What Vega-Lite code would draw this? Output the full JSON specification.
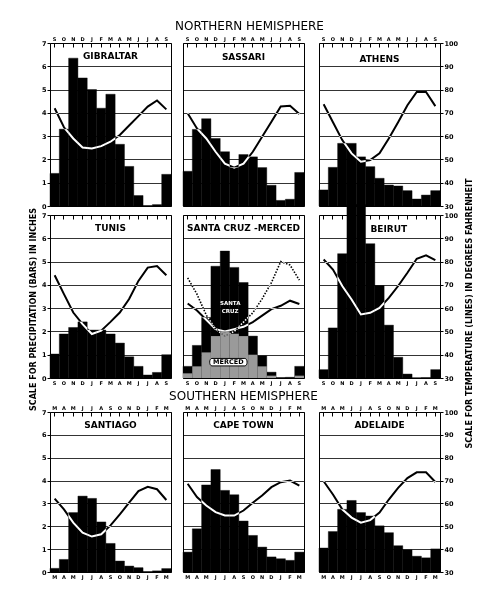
{
"$schema":"https://vega.github.io/schema/vega-lite/v6.json",
"background":"white",
"padding":{"left":29,"top":19,"right":6,"bottom":10},
"title":{"text":"SCALE FOR PRECIPITATION (BARS) IN INCHES","orient":"left","fontSize":8,"fontWeight":"bold","anchor":"middle","offset":3,"dx":-10},
"datasets":{"d":[
{"c":"GIB","i":0,"p":1.4,"t":72},{"c":"GIB","i":1,"p":3.3,"t":63.8},{"c":"GIB","i":2,"p":6.35,"t":59},{"c":"GIB","i":3,"p":5.5,"t":55.1},{"c":"GIB","i":4,"p":5.0,"t":54.7},{"c":"GIB","i":5,"p":4.2,"t":55.7},{"c":"GIB","i":6,"p":4.8,"t":57.6},{"c":"GIB","i":7,"p":2.65,"t":60.5},{"c":"GIB","i":8,"p":1.7,"t":64.6},{"c":"GIB","i":9,"p":0.45,"t":68.6},{"c":"GIB","i":10,"p":0.02,"t":72.7},{"c":"GIB","i":11,"p":0.06,"t":75.3},{"c":"GIB","i":12,"p":1.36,"t":71.5},
{"c":"SAS","i":0,"p":1.49,"t":69.8},{"c":"SAS","i":1,"p":3.29,"t":63.3},{"c":"SAS","i":2,"p":3.75,"t":59},{"c":"SAS","i":3,"p":2.9,"t":53.3},{"c":"SAS","i":4,"p":2.33,"t":48.2},{"c":"SAS","i":5,"p":1.65,"t":46.5},{"c":"SAS","i":6,"p":2.21,"t":48.2},{"c":"SAS","i":7,"p":2.11,"t":53.3},{"c":"SAS","i":8,"p":1.65,"t":59.7},{"c":"SAS","i":9,"p":0.89,"t":66.2},{"c":"SAS","i":10,"p":0.24,"t":72.7},{"c":"SAS","i":11,"p":0.29,"t":73},{"c":"SAS","i":12,"p":1.44,"t":69.5},
{"c":"ATH","i":0,"p":0.69,"t":73.7},{"c":"ATH","i":1,"p":1.66,"t":66},{"c":"ATH","i":2,"p":2.69,"t":58.3},{"c":"ATH","i":3,"p":2.69,"t":52.6},{"c":"ATH","i":4,"p":2.11,"t":49},{"c":"ATH","i":5,"p":1.69,"t":49.7},{"c":"ATH","i":6,"p":1.19,"t":52.6},{"c":"ATH","i":7,"p":0.9,"t":59},{"c":"ATH","i":8,"p":0.86,"t":66},{"c":"ATH","i":9,"p":0.66,"t":73.3},{"c":"ATH","i":10,"p":0.3,"t":79},{"c":"ATH","i":11,"p":0.47,"t":79},{"c":"ATH","i":12,"p":0.66,"t":72.9},
{"c":"TUN","i":0,"p":1.03,"t":74.1},{"c":"TUN","i":1,"p":1.89,"t":66},{"c":"TUN","i":2,"p":2.17,"t":58.1},{"c":"TUN","i":3,"p":2.41,"t":53.1},{"c":"TUN","i":4,"p":2.06,"t":48.9},{"c":"TUN","i":5,"p":2.06,"t":50.3},{"c":"TUN","i":6,"p":1.89,"t":54.1},{"c":"TUN","i":7,"p":1.5,"t":58.1},{"c":"TUN","i":8,"p":0.91,"t":63.9},{"c":"TUN","i":9,"p":0.5,"t":71.7},{"c":"TUN","i":10,"p":0.13,"t":77.4},{"c":"TUN","i":11,"p":0.24,"t":78.1},{"c":"TUN","i":12,"p":1.0,"t":74.1},
{"c":"SC","i":0,"p":0.5,"t":62},{"c":"SC","i":1,"p":1.4,"t":59},{"c":"SC","i":2,"p":2.6,"t":55},{"c":"SC","i":3,"p":4.8,"t":51},{"c":"SC","i":4,"p":5.45,"t":50},{"c":"SC","i":5,"p":4.75,"t":51},{"c":"SC","i":6,"p":4.1,"t":52},{"c":"SC","i":7,"p":1.8,"t":54},{"c":"SC","i":8,"p":0.95,"t":56.8},{"c":"SC","i":9,"p":0.25,"t":59.6},{"c":"SC","i":10,"p":0.02,"t":61},{"c":"SC","i":11,"p":0.03,"t":63.2},{"c":"SC","i":12,"p":0.5,"t":61.8},
{"c":"MER","i":0,"p":0.2,"t":73},{"c":"MER","i":1,"p":0.5,"t":66},{"c":"MER","i":2,"p":1.1,"t":57},{"c":"MER","i":3,"p":1.8,"t":51},{"c":"MER","i":4,"p":2.0,"t":48},{"c":"MER","i":5,"p":1.9,"t":50},{"c":"MER","i":6,"p":1.8,"t":54},{"c":"MER","i":7,"p":1.0,"t":58},{"c":"MER","i":8,"p":0.5,"t":64},{"c":"MER","i":9,"p":0.1,"t":71},{"c":"MER","i":10,"p":0,"t":80},{"c":"MER","i":11,"p":0,"t":78.5},{"c":"MER","i":12,"p":0.1,"t":72},
{"c":"BEI","i":0,"p":0.36,"t":80.9},{"c":"BEI","i":1,"p":2.15,"t":76.6},{"c":"BEI","i":2,"p":5.34,"t":69.5},{"c":"BEI","i":3,"p":7.45,"t":63.7},{"c":"BEI","i":4,"p":7.45,"t":57.3},{"c":"BEI","i":5,"p":5.77,"t":58},{"c":"BEI","i":6,"p":3.97,"t":60.1},{"c":"BEI","i":7,"p":2.27,"t":64.4},{"c":"BEI","i":8,"p":0.89,"t":69.5},{"c":"BEI","i":9,"p":0.17,"t":75.2},{"c":"BEI","i":10,"p":0.01,"t":81.2},{"c":"BEI","i":11,"p":0.02,"t":82.7},{"c":"BEI","i":12,"p":0.36,"t":80.6},
{"c":"SAN","i":0,"p":0.16,"t":62.1},{"c":"SAN","i":1,"p":0.55,"t":57.4},{"c":"SAN","i":2,"p":2.6,"t":51.6},{"c":"SAN","i":3,"p":3.32,"t":47.2},{"c":"SAN","i":4,"p":3.22,"t":45.5},{"c":"SAN","i":5,"p":2.19,"t":46.5},{"c":"SAN","i":6,"p":1.25,"t":50.4},{"c":"SAN","i":7,"p":0.48,"t":55.2},{"c":"SAN","i":8,"p":0.26,"t":60.3},{"c":"SAN","i":9,"p":0.19,"t":65.4},{"c":"SAN","i":10,"p":0.02,"t":67.3},{"c":"SAN","i":11,"p":0.05,"t":66.2},{"c":"SAN","i":12,"p":0.15,"t":61.5},
{"c":"CPT","i":0,"p":0.87,"t":68.6},{"c":"CPT","i":1,"p":1.89,"t":62.8},{"c":"CPT","i":2,"p":3.81,"t":59.1},{"c":"CPT","i":3,"p":4.48,"t":56.2},{"c":"CPT","i":4,"p":3.57,"t":54.7},{"c":"CPT","i":5,"p":3.38,"t":54.7},{"c":"CPT","i":6,"p":2.23,"t":56.9},{"c":"CPT","i":7,"p":1.6,"t":60.3},{"c":"CPT","i":8,"p":1.09,"t":63.5},{"c":"CPT","i":9,"p":0.66,"t":67.1},{"c":"CPT","i":10,"p":0.58,"t":69.3},{"c":"CPT","i":11,"p":0.51,"t":70},{"c":"CPT","i":12,"p":0.87,"t":67.8},
{"c":"ADL","i":0,"p":1.05,"t":69.7},{"c":"ADL","i":1,"p":1.77,"t":63.9},{"c":"ADL","i":2,"p":2.74,"t":57.4},{"c":"ADL","i":3,"p":3.13,"t":53.8},{"c":"ADL","i":4,"p":2.6,"t":51.6},{"c":"ADL","i":5,"p":2.45,"t":52.7},{"c":"ADL","i":6,"p":2.02,"t":56},{"c":"ADL","i":7,"p":1.72,"t":61.7},{"c":"ADL","i":8,"p":1.15,"t":66.8},{"c":"ADL","i":9,"p":0.97,"t":71.1},{"c":"ADL","i":10,"p":0.69,"t":73.6},{"c":"ADL","i":11,"p":0.62,"t":73.6},{"c":"ADL","i":12,"p":1.01,"t":69.4}
]},
"vconcat":[{
"title":{"text":"SCALE FOR TEMPERATURE (LINES) IN DEGREES FAHRENHEIT","orient":"right","angle":270,"baseline":"top","fontSize":8,"fontWeight":"bold","anchor":"middle","offset":0,"dx":-14},
"vconcat":[{
"title":{"text":"NORTHERN HEMISPHERE","fontSize":12,"offset":3,"anchor":"middle"},
"columns":3,
"align":"each",
"spacing":{"row":-7,"column":-4},
"concat":[
{"width":121,"height":163,"data":{"name":"d"},"resolve":{"scale":{"y":"independent"},"axis":{"x":"independent"}},"layer":[
 {"transform":[{"filter":"datum.c=='GIB'"}],"mark":{"type":"bar","color":"black","stroke":"black","strokeWidth":0.4},"encoding":{
  "x":{"field":"i","type":"ordinal","scale":{"domain":[0,1,2,3,4,5,6,7,8,9,10,11,12],"paddingInner":0,"paddingOuter":0},"axis":{"orient":"top","labelExpr":"['S','O','N','D','J','F','M','A','M','J','J','A','S'][datum.value]","labelAngle":0,"labelFontSize":5,"tickSize":-4,"labelPadding":6,"title":null}},
  "y":{"field":"p","type":"quantitative","scale":{"domain":[0,7]},"axis":{"orient":"left","values":[0,1,2,3,4,5,6,7],"grid":true,"title":null,"tickSize":3,"labelPadding":1,"labelFontSize":6.5}}}},
 {"transform":[{"filter":"datum.c=='GIB'"}],"mark":{"type":"line","color":"white","strokeWidth":2,"blend":"difference"},"encoding":{
  "x":{"field":"i","type":"ordinal","axis":null},
  "y":{"field":"t","type":"quantitative","scale":{"domain":[30,100]},"axis":null}}},
 {"data":{"values":[{"n":"GIBRALTAR"}]},"mark":{"type":"text","fontSize":9,"fontWeight":"bold"},"encoding":{"text":{"field":"n"},"x":{"datum":6,"type":"ordinal","axis":null},"y":{"datum":6.45,"type":"quantitative","scale":{"domain":[0,7]},"axis":null}}}
]},
{"width":121,"height":163,"data":{"name":"d"},"resolve":{"scale":{"y":"independent"},"axis":{"x":"independent"}},"layer":[
 {"transform":[{"filter":"datum.c=='SAS'"}],"mark":{"type":"bar","color":"black","stroke":"black","strokeWidth":0.4},"encoding":{
  "x":{"field":"i","type":"ordinal","scale":{"domain":[0,1,2,3,4,5,6,7,8,9,10,11,12],"paddingInner":0,"paddingOuter":0},"axis":{"orient":"top","labelExpr":"['S','O','N','D','J','F','M','A','M','J','J','A','S'][datum.value]","labelAngle":0,"labelFontSize":5,"tickSize":-4,"labelPadding":6,"title":null}},
  "y":{"field":"p","type":"quantitative","scale":{"domain":[0,7]},"axis":{"orient":"left","values":[0,1,2,3,4,5,6,7],"grid":true,"title":null,"labels":false,"ticks":false}}}},
 {"transform":[{"filter":"datum.c=='SAS'"}],"mark":{"type":"line","color":"white","strokeWidth":2,"blend":"difference"},"encoding":{
  "x":{"field":"i","type":"ordinal","axis":null},
  "y":{"field":"t","type":"quantitative","scale":{"domain":[30,100]},"axis":null}}},
 {"data":{"values":[{"n":"SASSARI"}]},"mark":{"type":"text","fontSize":9,"fontWeight":"bold"},"encoding":{"text":{"field":"n"},"x":{"datum":6,"type":"ordinal","axis":null},"y":{"datum":6.4,"type":"quantitative","scale":{"domain":[0,7]},"axis":null}}}
]},
{"width":121,"height":163,"data":{"name":"d"},"resolve":{"scale":{"y":"independent"},"axis":{"x":"independent"}},"layer":[
 {"transform":[{"filter":"datum.c=='ATH'"}],"mark":{"type":"bar","color":"black","stroke":"black","strokeWidth":0.4},"encoding":{
  "x":{"field":"i","type":"ordinal","scale":{"domain":[0,1,2,3,4,5,6,7,8,9,10,11,12],"paddingInner":0,"paddingOuter":0},"axis":{"orient":"top","labelExpr":"['S','O','N','D','J','F','M','A','M','J','J','A','S'][datum.value]","labelAngle":0,"labelFontSize":5,"tickSize":-4,"labelPadding":6,"title":null}},
  "y":{"field":"p","type":"quantitative","scale":{"domain":[0,7]},"axis":{"orient":"left","values":[0,1,2,3,4,5,6,7],"grid":true,"title":null,"labels":false,"ticks":false}}}},
 {"transform":[{"filter":"datum.c=='ATH'"}],"mark":{"type":"line","color":"white","strokeWidth":2,"blend":"difference"},"encoding":{
  "x":{"field":"i","type":"ordinal","axis":null},
  "y":{"field":"t","type":"quantitative","scale":{"domain":[30,100]},"axis":{"orient":"right","values":[30,40,50,60,70,80,90,100],"grid":false,"title":null,"tickSize":3,"labelPadding":1,"labelFontSize":6.5}}}},
 {"data":{"values":[{"n":"ATHENS"}]},"mark":{"type":"text","fontSize":9,"fontWeight":"bold"},"encoding":{"text":{"field":"n"},"x":{"datum":6,"type":"ordinal","axis":null},"y":{"datum":6.3,"type":"quantitative","scale":{"domain":[0,7]},"axis":null}}}
]},
{"width":121,"height":163,"data":{"name":"d"},"resolve":{"scale":{"y":"independent"},"axis":{"x":"independent"}},"layer":[
 {"transform":[{"filter":"datum.c=='TUN'"}],"mark":{"type":"bar","color":"black","stroke":"black","strokeWidth":0.4},"encoding":{
  "x":{"field":"i","type":"ordinal","scale":{"domain":[0,1,2,3,4,5,6,7,8,9,10,11,12],"paddingInner":0,"paddingOuter":0},"axis":{"orient":"top","labels":false,"tickSize":-4,"title":null}},
  "y":{"field":"p","type":"quantitative","scale":{"domain":[0,7]},"axis":{"orient":"left","values":[0,1,2,3,4,5,6,7],"grid":true,"title":null,"tickSize":3,"labelPadding":1,"labelFontSize":6.5}}}},
 {"transform":[{"filter":"datum.c=='TUN'"}],"mark":{"type":"line","color":"white","strokeWidth":2,"blend":"difference"},"encoding":{
  "x":{"field":"i","type":"ordinal","axis":{"orient":"bottom","labelExpr":"['S','O','N','D','J','F','M','A','M','J','J','A','S'][datum.value]","labelAngle":0,"labelFontSize":5,"ticks":false,"labelPadding":2,"title":null}},
  "y":{"field":"t","type":"quantitative","scale":{"domain":[30,100]},"axis":null}}},
 {"data":{"values":[{"n":"TUNIS"}]},"mark":{"type":"text","fontSize":9,"fontWeight":"bold"},"encoding":{"text":{"field":"n"},"x":{"datum":6,"type":"ordinal","axis":null},"y":{"datum":6.45,"type":"quantitative","scale":{"domain":[0,7]},"axis":null}}}
]},
{"width":121,"height":163,"data":{"name":"d"},"resolve":{"scale":{"y":"independent"},"axis":{"x":"independent"}},"layer":[
 {"transform":[{"filter":"datum.c=='SC'"}],"mark":{"type":"bar","color":"black","stroke":"black","strokeWidth":0.4},"encoding":{
  "x":{"field":"i","type":"ordinal","scale":{"domain":[0,1,2,3,4,5,6,7,8,9,10,11,12],"paddingInner":0,"paddingOuter":0},"axis":{"orient":"top","labels":false,"tickSize":-4,"title":null}},
  "y":{"field":"p","type":"quantitative","scale":{"domain":[0,7]},"axis":{"orient":"left","values":[0,1,2,3,4,5,6,7],"grid":true,"title":null,"labels":false,"ticks":false}}}},
 {"transform":[{"filter":"datum.c=='MER'"}],"mark":{"type":"bar","color":"#9a9a9a"},"encoding":{
  "x":{"field":"i","type":"ordinal","axis":null},
  "y":{"field":"p","type":"quantitative","scale":{"domain":[0,7]},"axis":null}}},
 {"transform":[{"filter":"datum.c=='SC'"}],"mark":{"type":"line","color":"white","strokeWidth":2,"blend":"difference"},"encoding":{
  "x":{"field":"i","type":"ordinal","axis":{"orient":"bottom","labelExpr":"['S','O','N','D','J','F','M','A','M','J','J','A','S'][datum.value]","labelAngle":0,"labelFontSize":5,"ticks":false,"labelPadding":2,"title":" ","titleFontSize":8,"titlePadding":2}},
  "y":{"field":"t","type":"quantitative","scale":{"domain":[30,100]},"axis":null}}},
 {"transform":[{"filter":"datum.c=='MER'"}],"mark":{"type":"line","color":"white","strokeWidth":1.6,"strokeDash":[1.5,1.5],"blend":"difference"},"encoding":{
  "x":{"field":"i","type":"ordinal","axis":null},
  "y":{"field":"t","type":"quantitative","scale":{"domain":[30,100]},"axis":null}}},
 {"data":{"values":[{"n":"SANTA CRUZ -MERCED"}]},"mark":{"type":"text","fontSize":9,"fontWeight":"bold"},"encoding":{"text":{"field":"n"},"x":{"datum":6,"type":"ordinal","axis":null},"y":{"datum":6.44,"type":"quantitative","scale":{"domain":[0,7]},"axis":null}}},
 {"data":{"values":[{"n":"SANTA\nCRUZ"}]},"mark":{"type":"text","fontSize":5.5,"fontWeight":"bold","color":"white","lineBreak":"\n","dx":-4},"encoding":{"text":{"field":"n"},"x":{"datum":5,"type":"ordinal","axis":null},"y":{"datum":3.2,"type":"quantitative","scale":{"domain":[0,7]},"axis":null}}},
 {"data":{"values":[{"n":"MERCED"}]},"mark":{"type":"point","shape":"M-0.88,-0.2H0.88A0.12,0.2 0 0 1 0.88,0.2H-0.88A0.12,0.2 0 0 1 -0.88,-0.2Z","size":1400,"filled":true,"fill":"white","stroke":"black","strokeWidth":1,"opacity":1,"xOffset":3.5},"encoding":{"x":{"datum":4,"type":"ordinal","axis":null},"y":{"datum":0.68,"type":"quantitative","scale":{"domain":[0,7]},"axis":null}}},
 {"data":{"values":[{"n":"MERCED"}]},"mark":{"type":"text","fontSize":6.5,"fontWeight":"bold","dx":3.5},"encoding":{"text":{"field":"n"},"x":{"datum":4,"type":"ordinal","axis":null},"y":{"datum":0.68,"type":"quantitative","scale":{"domain":[0,7]},"axis":null}}}
]},
{"width":121,"height":163,"data":{"name":"d"},"resolve":{"scale":{"y":"independent"},"axis":{"x":"independent"}},"layer":[
 {"transform":[{"filter":"datum.c=='BEI'"}],"mark":{"type":"bar","color":"black","stroke":"black","strokeWidth":0.4},"encoding":{
  "x":{"field":"i","type":"ordinal","scale":{"domain":[0,1,2,3,4,5,6,7,8,9,10,11,12],"paddingInner":0,"paddingOuter":0},"axis":{"orient":"top","labels":false,"tickSize":-4,"title":null}},
  "y":{"field":"p","type":"quantitative","scale":{"domain":[0,7]},"axis":{"orient":"left","values":[0,1,2,3,4,5,6,7],"grid":true,"title":null,"labels":false,"ticks":false}}}},
 {"transform":[{"filter":"datum.c=='BEI'"}],"mark":{"type":"line","color":"white","strokeWidth":2,"blend":"difference"},"encoding":{
  "x":{"field":"i","type":"ordinal","axis":{"orient":"bottom","labelExpr":"['S','O','N','D','J','F','M','A','M','J','J','A','S'][datum.value]","labelAngle":0,"labelFontSize":5,"ticks":false,"labelPadding":2,"title":null}},
  "y":{"field":"t","type":"quantitative","scale":{"domain":[30,100]},"axis":{"orient":"right","values":[30,40,50,60,70,80,90,100],"grid":false,"title":null,"tickSize":3,"labelPadding":1,"labelFontSize":6.5}}}},
 {"data":{"values":[{"n":"BEIRUT"}]},"mark":{"type":"text","fontSize":9,"fontWeight":"bold"},"encoding":{"text":{"field":"n"},"x":{"datum":7,"type":"ordinal","axis":null},"y":{"datum":6.4,"type":"quantitative","scale":{"domain":[0,7]},"axis":null}}}
]},
{"width":121,"height":160,"data":{"name":"d"},"resolve":{"scale":{"y":"independent"},"axis":{"x":"independent"}},"layer":[
 {"transform":[{"filter":"datum.c=='SAN'"}],"mark":{"type":"bar","color":"black","stroke":"black","strokeWidth":0.4},"encoding":{
  "x":{"field":"i","type":"ordinal","scale":{"domain":[0,1,2,3,4,5,6,7,8,9,10,11,12],"paddingInner":0,"paddingOuter":0},"axis":{"orient":"top","labelExpr":"['M','A','M','J','J','A','S','O','N','D','J','F','M'][datum.value]","labelAngle":0,"labelFontSize":5,"tickSize":-4,"labelPadding":6,"title":null}},
  "y":{"field":"p","type":"quantitative","scale":{"domain":[0,7]},"axis":{"orient":"left","values":[0,1,2,3,4,5,6,7],"grid":true,"title":null,"tickSize":3,"labelPadding":1,"labelFontSize":6.5}}}},
 {"transform":[{"filter":"datum.c=='SAN'"}],"mark":{"type":"line","color":"white","strokeWidth":2,"blend":"difference"},"encoding":{
  "x":{"field":"i","type":"ordinal","axis":{"orient":"bottom","labelExpr":"['M','A','M','J','J','A','S','O','N','D','J','F','M'][datum.value]","labelAngle":0,"labelFontSize":5,"ticks":false,"labelPadding":2,"title":null}},
  "y":{"field":"t","type":"quantitative","scale":{"domain":[30,100]},"axis":null}}},
 {"data":{"values":[{"n":"SANTIAGO"}]},"mark":{"type":"text","fontSize":9,"fontWeight":"bold"},"encoding":{"text":{"field":"n"},"x":{"datum":6,"type":"ordinal","axis":null},"y":{"datum":6.45,"type":"quantitative","scale":{"domain":[0,7]},"axis":null}}}
]},
{"width":121,"height":160,"data":{"name":"d"},"title":{"text":"SOUTHERN HEMISPHERE","fontSize":12,"offset":2,"anchor":"middle"},"resolve":{"scale":{"y":"independent"},"axis":{"x":"independent"}},"layer":[
 {"transform":[{"filter":"datum.c=='CPT'"}],"mark":{"type":"bar","color":"black","stroke":"black","strokeWidth":0.4},"encoding":{
  "x":{"field":"i","type":"ordinal","scale":{"domain":[0,1,2,3,4,5,6,7,8,9,10,11,12],"paddingInner":0,"paddingOuter":0},"axis":{"orient":"top","labelExpr":"['M','A','M','J','J','A','S','O','N','D','J','F','M'][datum.value]","labelAngle":0,"labelFontSize":5,"tickSize":-4,"labelPadding":6,"title":null}},
  "y":{"field":"p","type":"quantitative","scale":{"domain":[0,7]},"axis":{"orient":"left","values":[0,1,2,3,4,5,6,7],"grid":true,"title":null,"labels":false,"ticks":false}}}},
 {"transform":[{"filter":"datum.c=='CPT'"}],"mark":{"type":"line","color":"white","strokeWidth":2,"blend":"difference"},"encoding":{
  "x":{"field":"i","type":"ordinal","axis":{"orient":"bottom","labelExpr":"['M','A','M','J','J','A','S','O','N','D','J','F','M'][datum.value]","labelAngle":0,"labelFontSize":5,"ticks":false,"labelPadding":2,"title":null}},
  "y":{"field":"t","type":"quantitative","scale":{"domain":[30,100]},"axis":null}}},
 {"data":{"values":[{"n":"CAPE TOWN"}]},"mark":{"type":"text","fontSize":9,"fontWeight":"bold"},"encoding":{"text":{"field":"n"},"x":{"datum":6,"type":"ordinal","axis":null},"y":{"datum":6.45,"type":"quantitative","scale":{"domain":[0,7]},"axis":null}}}
]},
{"width":121,"height":160,"data":{"name":"d"},"resolve":{"scale":{"y":"independent"},"axis":{"x":"independent"}},"layer":[
 {"transform":[{"filter":"datum.c=='ADL'"}],"mark":{"type":"bar","color":"black","stroke":"black","strokeWidth":0.4},"encoding":{
  "x":{"field":"i","type":"ordinal","scale":{"domain":[0,1,2,3,4,5,6,7,8,9,10,11,12],"paddingInner":0,"paddingOuter":0},"axis":{"orient":"top","labelExpr":"['M','A','M','J','J','A','S','O','N','D','J','F','M'][datum.value]","labelAngle":0,"labelFontSize":5,"tickSize":-4,"labelPadding":6,"title":null}},
  "y":{"field":"p","type":"quantitative","scale":{"domain":[0,7]},"axis":{"orient":"left","values":[0,1,2,3,4,5,6,7],"grid":true,"title":null,"labels":false,"ticks":false}}}},
 {"transform":[{"filter":"datum.c=='ADL'"}],"mark":{"type":"line","color":"white","strokeWidth":2,"blend":"difference"},"encoding":{
  "x":{"field":"i","type":"ordinal","axis":{"orient":"bottom","labelExpr":"['M','A','M','J','J','A','S','O','N','D','J','F','M'][datum.value]","labelAngle":0,"labelFontSize":5,"ticks":false,"labelPadding":2,"title":null}},
  "y":{"field":"t","type":"quantitative","scale":{"domain":[30,100]},"axis":{"orient":"right","values":[30,40,50,60,70,80,90,100],"grid":false,"title":null,"tickSize":3,"labelPadding":1,"labelFontSize":6.5}}}},
 {"data":{"values":[{"n":"ADELAIDE"}]},"mark":{"type":"text","fontSize":9,"fontWeight":"bold"},"encoding":{"text":{"field":"n"},"x":{"datum":6,"type":"ordinal","axis":null},"y":{"datum":6.45,"type":"quantitative","scale":{"domain":[0,7]},"axis":null}}}
]}
]}]}],
"config":{
 "font":"DejaVu Sans",
 "view":{"stroke":"black","strokeWidth":1},
 "axis":{"domain":false,"gridColor":"black","gridWidth":0.8,"gridOpacity":1,"tickColor":"black","tickWidth":1,"labelColor":"black","labelFont":"DejaVu Sans","labelFontWeight":"bold","labelOverlap":false},
 "title":{"font":"DejaVu Sans","color":"black","fontWeight":"normal"},
 "text":{"font":"DejaVu Sans","color":"black"}
}
}
